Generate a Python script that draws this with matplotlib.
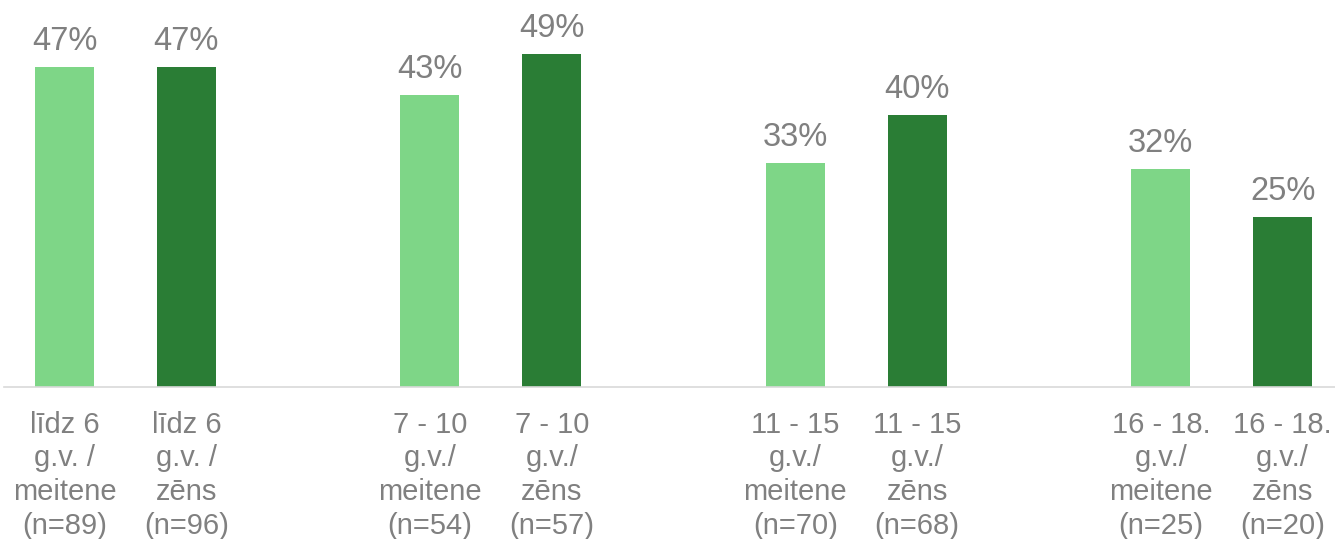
import matplotlib
matplotlib.use("Agg")
import matplotlib.pyplot as plt

categories = [
    "līdz 6\ng.v. /\nmeitene\n(n=89)",
    "līdz 6\ng.v. /\nzēns\n(n=96)",
    "7 - 10\ng.v./\nmeitene\n(n=54)",
    "7 - 10\ng.v./\nzēns\n(n=57)",
    "11 - 15\ng.v./\nmeitene\n(n=70)",
    "11 - 15\ng.v./\nzēns\n(n=68)",
    "16 - 18.\ng.v./\nmeitene\n(n=25)",
    "16 - 18.\ng.v./\nzēns\n(n=20)",
]
values = [47, 47, 43, 49, 33, 40, 32, 25]
positions = [0, 1, 3, 4, 6, 7, 9, 10]
colors = ["#7ED687", "#2A7D35"] * 4

plt.rcParams["font.family"] = ["Liberation Sans", "DejaVu Sans"]
gray = "#808080"

fig = plt.figure(figsize=(13.35, 5.39), dpi=100)
ax = fig.add_axes([4 / 1335, 152 / 539, 1331 / 1335, 387 / 539])

ax.bar(positions, values, width=0.484, color=colors)
ax.set_xlim(-0.497, 10.43)
ax.set_ylim(0, 387 / 6.8)

for x, v in zip(positions, values):
    ax.annotate(f"{v}%", (x, v), xytext=(0, 12.2), textcoords="offset points",
                ha="center", va="baseline", fontsize=23.5, color=gray)

ax.set_xticks(positions)
ax.set_xticklabels(categories, fontsize=21, color=gray, linespacing=1.26)
ax.tick_params(axis="x", length=0, pad=17)
ax.set_yticks([])
for s in ["top", "right", "left"]:
    ax.spines[s].set_visible(False)
ax.spines["bottom"].set_color("#D9D9D9")
ax.spines["bottom"].set_linewidth(1.2)

fig.savefig("out.png", dpi=100)
